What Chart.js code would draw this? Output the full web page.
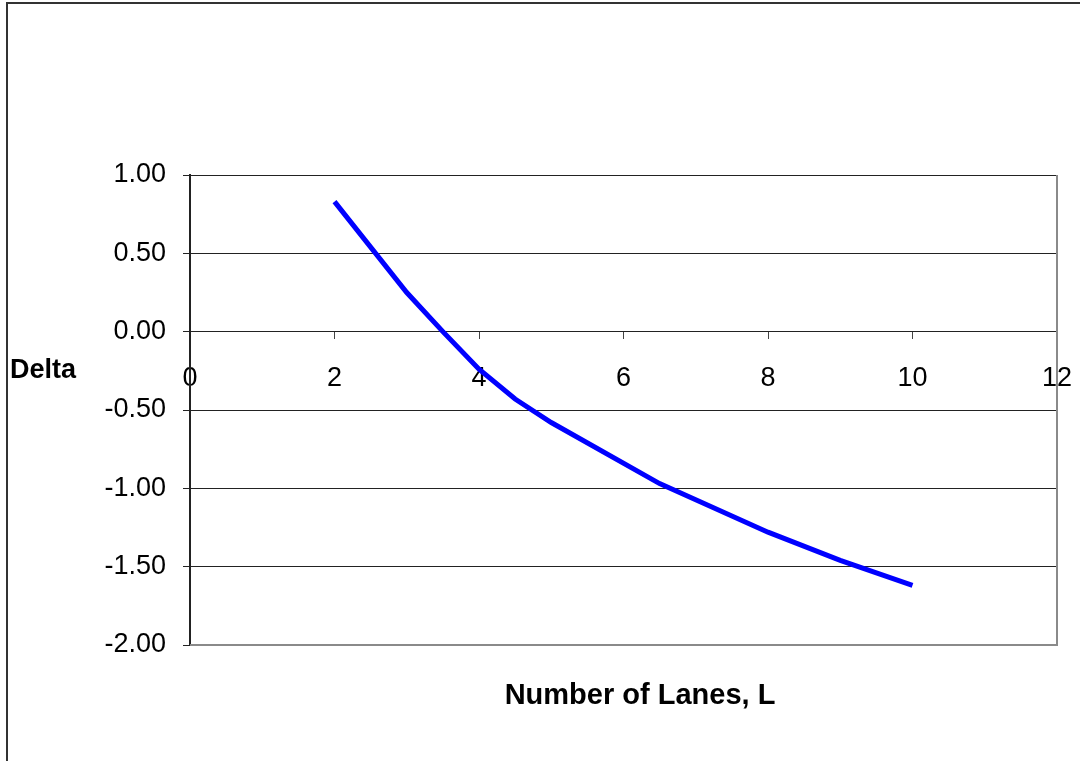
<!DOCTYPE html>
<html>
<head>
<meta charset="utf-8">
<script src="https://cdn.jsdelivr.net/npm/chart.js@4/dist/chart.umd.min.js"></script>
<style>
  html, body { margin: 0; padding: 0; background: #fff; }
  #wrap { width: 1080px; height: 761px; position: relative; }
</style>
</head>
<body>
<div id="wrap"><canvas id="c" width="1080" height="761"></canvas></div>
<script>
const laneCounts = [2, 3, 3.5, 4, 4.5, 5, 6.5, 8, 9, 10];
const deltaValues = [0.83, 0.25, 0.0, -0.24, -0.43, -0.58, -0.97, -1.28, -1.46, -1.62];
const xTickRange = { min: 0, max: 12, step: 2 };
const yTickRange = { min: -2, max: 1, step: 0.5 };
const xTitle = 'Number of Lanes, L';
const yTitle = 'Delta';

const FONT = 'Liberation Sans, Arial, sans-serif';

const decorPlugin = {
  id: 'decor',
  beforeDraw(chart) {
    const ctx = chart.ctx;
    ctx.save();
    ctx.fillStyle = '#fff';
    ctx.fillRect(0, 0, chart.width, chart.height);
    ctx.restore();
  },
  afterDraw(chart) {
    const ctx = chart.ctx;
    const a = chart.chartArea;
    ctx.save();
    // outer frame (clipped by canvas on right/bottom)
    ctx.strokeStyle = '#333';
    ctx.lineWidth = 2;
    ctx.beginPath();
    ctx.moveTo(7, chart.height + 5);
    ctx.lineTo(7, 3);
    ctx.lineTo(chart.width + 5, 3);
    ctx.stroke();
    // plot area right / bottom border
    ctx.strokeStyle = '#8a8a8a';
    ctx.lineWidth = 2;
    ctx.beginPath();
    ctx.moveTo(a.left, a.bottom);
    ctx.lineTo(a.right, a.bottom);
    ctx.lineTo(a.right, a.top);
    ctx.stroke();
    // titles
    ctx.fillStyle = '#000';
    ctx.font = 'bold 27px ' + FONT;
    ctx.textBaseline = 'middle';
    ctx.textAlign = 'left';
    ctx.fillText(yTitle, 10, 371);
    ctx.font = 'bold 29px ' + FONT;
    ctx.textAlign = 'center';
    ctx.fillText(xTitle, 640, 696);
    ctx.restore();
  }
};

new Chart(document.getElementById('c'), {
  type: 'scatter',
  data: {
    datasets: [{
      data: laneCounts.map((x, i) => ({ x: x, y: deltaValues[i] })),
      showLine: true,
      borderColor: '#0000ff',
      borderWidth: 5,
      pointRadius: 0,
      pointHoverRadius: 0,
      tension: 0,
      fill: false
    }]
  },
  options: {
    responsive: false,
    animation: false,
    devicePixelRatio: 1,
    layout: { padding: { top: 175, right: 23, bottom: 116, left: 0 } },
    plugins: { legend: { display: false }, tooltip: { enabled: false } },
    scales: {
      x: {
        type: 'linear',
        position: { y: 0 },
        min: xTickRange.min, max: xTickRange.max,
        afterFit(scale) { scale.height = 0; scale.paddingLeft = 0; scale.paddingRight = 0; },
        ticks: {
          stepSize: xTickRange.step,
          color: '#000',
          font: { family: FONT, size: 27 },
          padding: 24,
          maxRotation: 0,
          autoSkip: false
        },
        grid: { drawOnChartArea: false, drawTicks: true, tickLength: 7, color: '#444', lineWidth: 1 },
        border: { display: true, color: '#222', width: 1 }
      },
      y: {
        type: 'linear',
        min: yTickRange.min, max: yTickRange.max,
        afterFit(scale) { scale.width = 190; },
        ticks: {
          stepSize: yTickRange.step,
          color: '#000',
          font: { family: FONT, size: 27 },
          padding: 17,
          callback: v => Number(v).toFixed(2)
        },
        grid: { drawOnChartArea: true, drawTicks: true, tickLength: 7, color: '#222', lineWidth: 1 },
        border: { display: true, color: '#222', width: 2 }
      }
    }
  },
  plugins: [decorPlugin]
});
</script>
</body>
</html>
